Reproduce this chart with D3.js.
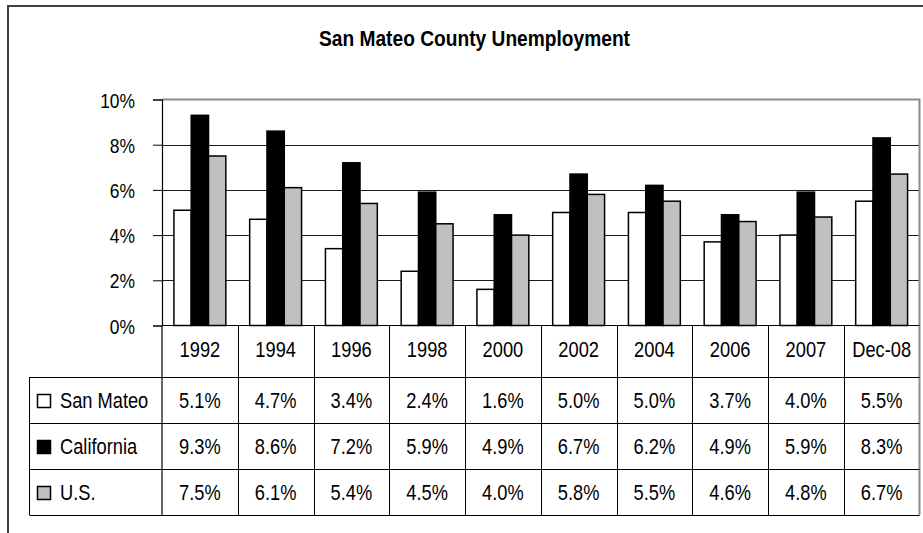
<!DOCTYPE html>
<html lang="en">
<head>
<meta charset="UTF-8">
<title>San Mateo County Unemployment</title>
<style>
  body { margin: 0; background: #fff; }
  svg { display: block; }
  text { font-family: "Liberation Sans", Arial, sans-serif; fill: #000; }
</style>
</head>
<body>
<div id="chart"></div>
<script src="https://d3js.org/d3.v7.min.js"></script>
<script>
// data
const categories = ['1992', '1994', '1996', '1998', '2000', '2002', '2004', '2006', '2007', 'Dec-08'];
const seriesNames = ['San Mateo', 'California', 'U.S.'];
const sanMateo   = [5.1, 4.7, 3.4, 2.4, 1.6, 5.0, 5.0, 3.7, 4.0, 5.5];
const california = [9.3, 8.6, 7.2, 5.9, 4.9, 6.7, 6.2, 4.9, 5.9, 8.3];
const usRate     = [7.5, 6.1, 5.4, 4.5, 4.0, 5.8, 5.5, 4.6, 4.8, 6.7];
const yTicks = [0, 2, 4, 6, 8, 10];

const seriesValues = [sanMateo, california, usRate];
const fills = ['#ffffff', '#000000', '#c0c0c0'];

const W = 923, H = 533;
const plot = { left: 162, right: 919.5, top: 99.5, bottom: 325.5 };
const table = { left: 29.5, top: 377, bottom: 515 };
const SX = 0.83; // horizontal squeeze, the original uses a narrow face

const svg = d3.select('#chart').append('svg')
  .attr('width', W).attr('height', H);

// narrow text helper
function label(parent, x, y, str, size, anchor) {
  return parent.append('text')
    .attr('transform', `translate(${x},${y}) scale(${SX},1)`)
    .attr('text-anchor', anchor || 'start')
    .attr('font-size', size)
    .text(str);
}

// outer frame (top + left only visible)
svg.append('path')
  .attr('d', `M8,${H} L8,6 L${W},6`)
  .attr('fill', 'none').attr('stroke', '#404040').attr('stroke-width', 2);

// title
svg.append('text')
  .attr('x', 474.5).attr('y', 46)
  .attr('text-anchor', 'middle')
  .attr('font-size', 22).attr('font-weight', 'bold')
  .attr('textLength', 311).attr('lengthAdjust', 'spacingAndGlyphs')
  .text('San Mateo County Unemployment');

// scales
const x = d3.scaleBand().domain(categories).range([plot.left, plot.right]).padding(0);
const xs = d3.scaleBand().domain(seriesNames).range([0, x.bandwidth()]).paddingInner(0).paddingOuter(0.69);
const y = d3.scaleLinear().domain([0, 10]).range([plot.bottom, plot.top]);

// gridlines
svg.append('g').selectAll('line')
  .data(yTicks.filter(d => d > 0 && d < 10))
  .join('line')
  .attr('x1', plot.left).attr('x2', plot.right)
  .attr('y1', d => Math.round(y(d)) + 0.5).attr('y2', d => Math.round(y(d)) + 0.5)
  .attr('stroke', '#1a1a1a').attr('stroke-width', 1);

// plot border top / right (gray)
svg.append('path')
  .attr('d', `M${plot.left},${plot.top} L${plot.right},${plot.top} L${plot.right},${table.bottom}`)
  .attr('fill', 'none').attr('stroke', '#8c8c8c').attr('stroke-width', 2);

// bars
const groups = svg.append('g').selectAll('g')
  .data(categories)
  .join('g')
  .attr('transform', d => `translate(${x(d)},0)`);

groups.selectAll('rect')
  .data((d, i) => seriesNames.map((s, k) => ({ s, k, v: seriesValues[k][i] })))
  .join('rect')
  .attr('x', d => xs(d.s))
  .attr('width', xs.bandwidth())
  .attr('y', d => y(d.v))
  .attr('height', d => y(0) - y(d.v))
  .attr('fill', d => fills[d.k])
  .attr('stroke', '#000').attr('stroke-width', 1.5);

// y axis
const yAxis = d3.axisLeft(y)
  .tickValues(yTicks)
  .tickSize(9)
  .tickPadding(18)
  .tickFormat(d => d + '%');

const ya = svg.append('g')
  .attr('transform', `translate(${plot.left},0)`)
  .call(yAxis);
ya.select('.domain').attr('stroke', '#000').attr('stroke-width', 1.2);
ya.selectAll('.tick line').attr('stroke', '#000');
ya.selectAll('.tick text')
  .attr('font-family', '"Liberation Sans", Arial, sans-serif')
  .attr('font-size', 21).attr('dy', '0.36em').attr('fill', '#000')
  .attr('x', -27 / SX)
  .attr('transform', `scale(${SX},1)`);

// data table
const row = d3.scaleBand().domain(seriesNames).range([table.top, table.bottom]);
const t = svg.append('g');

// x-axis line (0%) running across
t.append('line')
  .attr('x1', plot.left).attr('x2', plot.right)
  .attr('y1', plot.bottom).attr('y2', plot.bottom)
  .attr('stroke', '#000').attr('stroke-width', 1.2);

// column dividers
const colEdges = categories.map(c => x(c)).slice(1);
t.selectAll('line.col')
  .data(colEdges)
  .join('line').attr('class', 'col')
  .attr('x1', d => Math.round(d) + 0.5).attr('x2', d => Math.round(d) + 0.5)
  .attr('y1', plot.bottom).attr('y2', table.bottom)
  .attr('stroke', '#000').attr('stroke-width', 1);

t.append('line')
  .attr('x1', plot.left).attr('x2', plot.left)
  .attr('y1', plot.bottom).attr('y2', table.bottom)
  .attr('stroke', '#000').attr('stroke-width', 1.2);

// row dividers
const rowEdges = seriesNames.map(s => row(s)).concat([table.bottom]);
t.selectAll('line.row')
  .data(rowEdges)
  .join('line').attr('class', 'row')
  .attr('x1', table.left).attr('x2', plot.right)
  .attr('y1', d => Math.round(d) + 0.5).attr('y2', d => Math.round(d) + 0.5)
  .attr('stroke', '#000').attr('stroke-width', 1);

t.append('line')
  .attr('x1', table.left).attr('x2', table.left)
  .attr('y1', table.top).attr('y2', table.bottom)
  .attr('stroke', '#000').attr('stroke-width', 1);

// header labels
categories.forEach(c => label(t, x(c) + x.bandwidth() / 2, 357, c, 22, 'middle'));

// values + legend
seriesNames.forEach((s, k) => {
  const cy = row(s) + row.bandwidth() / 2 + 8;
  seriesValues[k].forEach((v, i) => {
    label(t, x(categories[i]) + x.bandwidth() / 2, cy, v.toFixed(1) + '%', 22, 'middle');
  });

  t.append('rect')
    .attr('x', 37.5).attr('y', row(s) + row.bandwidth() / 2 - 5.5)
    .attr('width', 13).attr('height', 13)
    .attr('fill', fills[k]).attr('stroke', '#000').attr('stroke-width', 1.5);

  label(t, 60, cy, s, 22, 'start');
});
</script>
</body>
</html>
